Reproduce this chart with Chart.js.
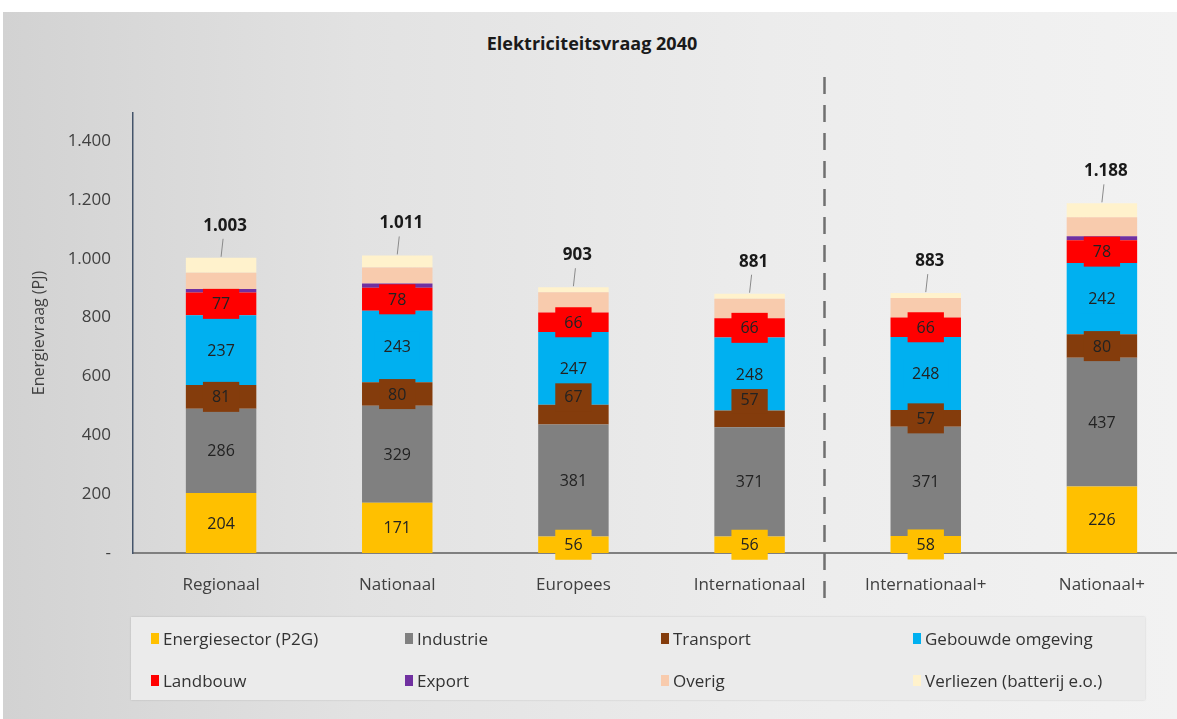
<!DOCTYPE html>
<html>
<head>
<meta charset="utf-8">
<script src="https://cdn.jsdelivr.net/npm/chart.js@4.4.1/dist/chart.umd.min.js"></script>
<style>
  html, body { margin: 0; padding: 0; width: 1177px; height: 719px; overflow: hidden; background: #fff; }
  #panel {
    position: absolute; left: 3px; top: 12px; width: 1174px; height: 707px;
    background: linear-gradient(to right, #d2d2d2 0%, #e2e2e2 30%, #ececec 65%, #f2f2f2 100%);
  }
  #title {
    position: absolute; left: 0; top: 31px; width: 1184px; text-align: center;
    font: bold 18px "Open Sans", sans-serif; color: #1a1a1a;
  }
  #wrap { position: absolute; left: 0; top: 0; width: 1200px; height: 719px; }
  #legend {
    position: absolute; left: 131px; top: 617px; width: 1014px; height: 83px;
    background: #ebebeb; box-shadow: 0 0 2px rgba(0,0,0,0.15);
    font: 17px "Open Sans", sans-serif; color: #333;
  }
  .item { position: absolute; display: flex; align-items: center; white-space: nowrap; }
  .item span.sw { display: inline-block; width: 8px; height: 11px; margin-right: 4px; }
</style>
</head>
<body>
<div id="panel"></div>
<div id="title">Elektriciteitsvraag 2040</div>
<div id="wrap"><canvas id="chart" width="1200" height="719"></canvas></div>
<div id="legend"></div>
<script>
const categories = ["Regionaal", "Nationaal", "Europees", "Internationaal", "Internationaal+", "Nationaal+"];
const seriesNames = ["Energiesector (P2G)", "Industrie", "Transport", "Gebouwde omgeving", "Landbouw", "Export", "Overig", "Verliezen (batterij e.o.)"];
const energiesector = [204, 171, 56, 56, 58, 226];
const industrie = [286, 329, 381, 371, 371, 437];
const transport = [81, 80, 67, 57, 57, 80];
const gebouwde = [237, 243, 247, 248, 248, 242];
const landbouw = [77, 78, 66, 66, 66, 78];
const exportVals = [12, 15, 0, 0, 0, 13];
const overig = [55, 54, 69, 66, 66, 65];
const verliezen = [51, 41, 17, 17, 17, 47];
const totals = [1003, 1011, 903, 881, 883, 1188];
const yTicks = [0, 200, 400, 600, 800, 1000, 1200, 1400];

const colors = ["#ffc000", "#808080", "#843c0c", "#00b0f0", "#ff0000", "#7030a0", "#f8cbad", "#fff2cc"];
const values = [energiesector, industrie, transport, gebouwde, landbouw, exportVals, overig, verliezen];
// which series get a value inside the bar
const labelled = [true, true, true, true, true, false, false, false];
// labels that were moved by hand in the original (dataset-category)
const labelNudge = { "2-2": -18, "2-3": -20 };

function fmt(v) {
  return String(v).replace(/\B(?=(\d{3})+(?!\d))/g, ".");
}

const segmentLabels = {
  id: "segmentLabels",
  afterDatasetsDraw(chart) {
    const ctx = chart.ctx;
    const y = chart.scales.y;
    const x = chart.scales.x;
    ctx.save();
    ctx.textAlign = "center";
    ctx.textBaseline = "middle";
    ctx.font = '16px "Open Sans"';
    chart.data.datasets.forEach((ds, di) => {
      if (!labelled[di]) return;
      chart.getDatasetMeta(di).data.forEach((bar, i) => {
        const v = ds.data[i];
        if (!v) return;
        const cy = (bar.y + bar.base) / 2 + (labelNudge[di + "-" + i] || 0);
        const w = ctx.measureText(String(v)).width + 18;
        ctx.fillStyle = ds.backgroundColor;
        ctx.fillRect(bar.x - w / 2, cy - 15, w, 30);
        ctx.fillStyle = "#222";
        ctx.fillText(String(v), bar.x, cy + 1);
      });
    });

    // totals with leader line
    ctx.font = 'bold 17px "Open Sans"';
    totals.forEach((t, i) => {
      const cx = x.getPixelForValue(i);
      const top = y.getPixelForValue(t);
      ctx.strokeStyle = "#8a8a8a";
      ctx.lineWidth = 1;
      ctx.beginPath();
      ctx.moveTo(cx + 2, top - 19);
      ctx.lineTo(cx, top - 1);
      ctx.stroke();
      ctx.fillStyle = "#1a1a1a";
      ctx.fillText(fmt(t), cx + 4, top - 32);
    });

    // scenario divider
    const dx = Math.round(x.getPixelForValue(3.42)) + 0.5;
    ctx.strokeStyle = "#707070";
    ctx.lineWidth = 2.5;
    ctx.setLineDash([17, 11]);
    ctx.beginPath();
    ctx.moveTo(dx, 77);
    ctx.lineTo(dx, 608);
    ctx.stroke();
    ctx.restore();
  }
};

const chart = new Chart(document.getElementById("chart"), {
  type: "bar",
  data: {
    labels: categories,
    datasets: seriesNames.map((name, k) => ({
      label: name,
      data: values[k],
      backgroundColor: colors[k],
      borderWidth: 0,
      barPercentage: 0.4,
      categoryPercentage: 1
    }))
  },
  options: {
    responsive: false,
    animation: false,
    layout: { padding: { left: 0, top: 113, right: 10, bottom: 110 } },
    plugins: {
      legend: { display: false },
      tooltip: { enabled: false }
    },
    scales: {
      x: {
        stacked: true,
        grid: { display: false, drawTicks: false },
        border: { color: "#7f7f7f", width: 2 },
        ticks: { color: "#404040", font: { family: "Open Sans", size: 17 }, padding: 22 },
        afterFit(s) { s.height = 56; }
      },
      y: {
        stacked: true,
        min: 0,
        max: 1495,
        grid: { display: false, drawTicks: false },
        border: { color: "#44546a", width: 1.5 },
        afterFit(s) { s.width = 133; },
        afterBuildTicks(s) { s.ticks = yTicks.map(v => ({ value: v })); },
        ticks: {
          color: "#404040",
          font: { family: "Open Sans", size: 17 },
          padding: 22,
          callback: v => (v === 0 ? "-" : fmt(v))
        },
        title: {
          display: true,
          text: "Energievraag (PJ)",
          color: "#404040",
          font: { family: "Open Sans", size: 16 },
          padding: { top: 30, bottom: 0 }
        }
      }
    }
  },
  plugins: [segmentLabels]
});

// legend in four columns
const legend = document.getElementById("legend");
const colX = [20, 274, 530, 782];
const rowY = [10, 52];
seriesNames.forEach((name, k) => {
  const el = document.createElement("div");
  el.className = "item";
  el.style.left = colX[k % 4] + "px";
  el.style.top = rowY[Math.floor(k / 4)] + "px";
  el.innerHTML = '<span class="sw" style="background:' + colors[k] + '"></span>' + name;
  legend.appendChild(el);
});
</script>
</body>
</html>
